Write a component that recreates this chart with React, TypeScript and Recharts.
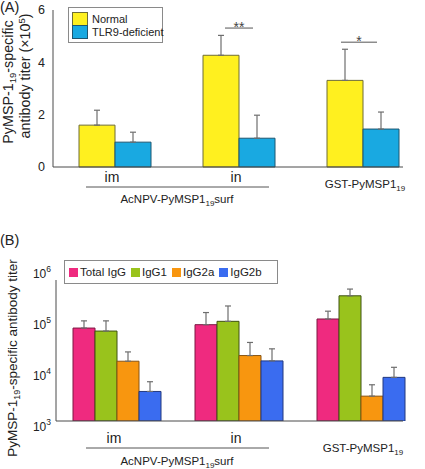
import { Bar, BarChart, ErrorBar, Legend, ReferenceDot, XAxis, YAxis } from 'recharts';

const FONT = '"Liberation Sans", Arial, Helvetica, sans-serif';

// panel A: linear titer (x10^5)
const categories = ['im', 'in', 'GST'];
const normalTiter = [1.6, 4.27, 3.31];
const normalErr = [0.57, 0.76, 1.19];
const tlr9Titer = [0.95, 1.1, 1.45];
const tlr9Err = [0.38, 0.88, 0.65];
const linearTicks = [0, 2, 4, 6];
const sigMarks = [
  { cat: 'in', y: 5.31, label: '**', shift: 0 },
  { cat: 'GST', y: 4.77, label: '*', shift: -4 }
];

// panel B: log titer by isotype
const totalIgG = [95000, 112000, 148000];
const totalIgGErr = [40000, 91000, 69000];
const igg1 = [82000, 132000, 461000];
const igg1Err = [53000, 148000, 180000];
const igg2a = [18700, 24700, 3380];
const igg2aErr = [10800, 22200, 2520];
const igg2b = [4250, 19000, 8480];
const igg2bErr = [2600, 15300, 5400];
const logTicks = [1000, 10000, 100000, 1000000];

const seriesA = [
  { key: 'normal', err: 'normalErr', name: 'Normal', fill: '#fff01f', stroke: '#6f6d35' },
  { key: 'tlr9', err: 'tlr9Err', name: 'TLR9-deficient', fill: '#19a9e1', stroke: '#1d5670' }
];
const seriesB = [
  { key: 'total', err: 'totalErr', name: 'Total IgG', fill: '#ef2a7f', stroke: '#7d1843' },
  { key: 'igg1', err: 'igg1Err', name: 'IgG1', fill: '#99c31c', stroke: '#3f5212' },
  { key: 'igg2a', err: 'igg2aErr', name: 'IgG2a', fill: '#f8960f', stroke: '#8a5512' },
  { key: 'igg2b', err: 'igg2bErr', name: 'IgG2b', fill: '#3a6cf0', stroke: '#23397f' }
];

const rowsA = categories.map((cat, i) => ({
  cat,
  normal: normalTiter[i],
  normalErr: [0, normalErr[i]],
  tlr9: tlr9Titer[i],
  tlr9Err: [0, tlr9Err[i]]
}));

const rowsB = categories.map((cat, i) => ({
  cat,
  total: totalIgG[i],
  totalErr: [0, totalIgGErr[i]],
  igg1: igg1[i],
  igg1Err: [0, igg1Err[i]],
  igg2a: igg2a[i],
  igg2aErr: [0, igg2aErr[i]],
  igg2b: igg2b[i],
  igg2bErr: [0, igg2bErr[i]]
}));

const AXIS = '#4a4a4a';

function Sub({ children, size = 8.5, shift = 3 }: { children: string; size?: number; shift?: number }) {
  return (
    <tspan baselineShift={-shift} fontSize={size}>{children}</tspan>
  );
}

function makeCatTick(labelDy: number, gstDy: number, lineDy: number, groupDy: number) {
  return function CatTick({ x = 0, y = 0, payload }: any) {
    const v = payload?.value;
    if (v === 'GST') {
      return (
        <text x={x + 2} y={y + gstDy} textAnchor="middle" fontSize={11.5} fill="#222" fontFamily={FONT}>
          GST-PyMSP1<Sub size={8}>19</Sub>
        </text>
      );
    }
    return (
      <g>
        <text x={x - 3} y={y + labelDy} textAnchor="middle" fontSize={14} fill="#222" fontFamily={FONT}>
          {v}
        </text>
        {v === 'in' && (
          <>
            <line x1={x - 153} x2={x + 30} y1={y + lineDy} y2={y + lineDy} stroke="#555" strokeWidth={1} />
            <text x={x - 62} y={y + groupDy} textAnchor="middle" fontSize={11.5} fill="#222" fontFamily={FONT}>
              AcNPV-PyMSP1<Sub size={8}>19</Sub>surf
            </text>
          </>
        )}
      </g>
    );
  };
}

const TickA = makeCatTick(15, 21, 20, 36);
const TickB = makeCatTick(22, 31, 27, 44);

function LogTick({ x = 0, y = 0, payload }: any) {
  const exp = Math.round(Math.log10(payload?.value ?? 1));
  const dy = 4 + (y - 120) * 0.09;
  return (
    <text x={x} y={y + dy} textAnchor="end" fontSize={12} fill="#222" fontFamily={FONT}>
      10<tspan baselineShift={6} fontSize={8.5}>{exp}</tspan>
    </text>
  );
}

function SigMark({ cx = 0, cy = 0, label, shift, half }: any) {
  const x = cx + shift;
  return (
    <g>
      <line x1={x - half} x2={x + half} y1={cy} y2={cy} stroke="#555" strokeWidth={1} />
      <text x={x} y={cy + 4} textAnchor="middle" fontSize={14} fill="#444" fontFamily={FONT}>
        {label}
      </text>
    </g>
  );
}

function LabelA() {
  const cy = 82;
  return (
    <g fontFamily={FONT} fill="#222">
      <text x={0} y={12} fontSize={14.5}>(A)</text>
      <text transform={`rotate(-90, 13, ${cy})`} x={13} y={cy} textAnchor="middle" fontSize={14.3}>
        PyMSP-1<Sub size={9.5}>19</Sub>-specific
      </text>
      <text transform={`rotate(-90, 30, ${cy - 6})`} x={30} y={cy - 6} textAnchor="middle" fontSize={14.3}>
        antibody titer (×10<tspan baselineShift={5} fontSize={9.5}>5</tspan>)
      </text>
    </g>
  );
}

function LabelB() {
  const cy = 128;
  return (
    <g fontFamily={FONT} fill="#222">
      <text x={0} y={15} fontSize={14.5}>(B)</text>
      <text transform={`rotate(-90, 17, ${cy})`} x={17} y={cy} textAnchor="middle" fontSize={13.5}>
        PyMSP-1<Sub size={9}>19</Sub>-specific antibody titer
      </text>
    </g>
  );
}

function LegendA() {
  return (
    <div style={{ boxSizing: 'border-box', border: '1px solid #8a8a8a', background: '#fff', padding: '4px 3px', width: 95, whiteSpace: 'nowrap', fontFamily: FONT, fontSize: 11, color: '#222' }}>
      {seriesA.map((s) => (
        <div key={s.key} style={{ display: 'flex', alignItems: 'center', height: 13 }}>
          <span style={{ width: 14, height: 12, background: s.fill, border: `1px solid ${s.stroke}`, marginRight: 4, flexShrink: 0 }} />
          <span>{s.name}</span>
        </div>
      ))}
    </div>
  );
}

function LegendB() {
  return (
    <div style={{ boxSizing: 'border-box', border: '1px solid #8a8a8a', background: '#fff', padding: '3px 4px', width: 214, whiteSpace: 'nowrap', display: 'flex', fontFamily: FONT, fontSize: 11.5, color: '#222' }}>
      {seriesB.map((s) => (
        <span key={s.key} style={{ display: 'flex', alignItems: 'center', marginRight: 5, height: 16 }}>
          <span style={{ width: 9, height: 9, background: s.fill, marginRight: 2, flexShrink: 0 }} />
          {s.name}
        </span>
      ))}
    </div>
  );
}

export default function App() {
  return (
    <div style={{ position: 'absolute', left: 0, top: 0, width: 425, height: 469, background: '#fff', fontFamily: FONT }}>
      <div style={{ position: 'absolute', left: 0, top: 0 }}>
        <BarChart width={425} height={230} data={rowsA} margin={{ top: 10, right: 22, left: 0, bottom: 0 }} barGap={0} barSize={36}>
          <XAxis dataKey="cat" axisLine={{ stroke: AXIS }} tickLine={false} tickSize={0} tickMargin={0} padding={{ left: 0, right: -22 }} tick={<TickA />} interval={0} height={63} />
          <YAxis domain={[0, 6]} ticks={linearTicks} width={53} axisLine={{ stroke: AXIS }} tickLine={false} tickSize={0} tickMargin={8} tick={{ fontSize: 12.5, fill: '#222', fontFamily: FONT }} label={<LabelA />} />
          <Legend layout="vertical" align="center" verticalAlign="middle" wrapperStyle={{ position: 'absolute', left: 68, top: 7, width: 'auto' }} content={<LegendA />} />
          {seriesA.map((s) => (
            <Bar key={s.key} dataKey={s.key} name={s.name} fill={s.fill} stroke={s.stroke} strokeWidth={1} isAnimationActive={false}>
              <ErrorBar dataKey={s.err} direction="y" width={3} stroke="#6e6e6e" strokeWidth={1.2} isAnimationActive={false} />
            </Bar>
          ))}
          {sigMarks.map((m) => (
            <ReferenceDot key={m.cat} x={m.cat} y={m.y} r={0} shape={(p: any) => <SigMark {...p} label={m.label} shift={m.shift} half={m.label.length > 1 ? 14 : 18} />} />
          ))}
        </BarChart>
      </div>
      <div style={{ position: 'absolute', left: 0, top: 230 }}>
        <BarChart width={425} height={239} data={rowsB} margin={{ top: 50, right: 22, left: 0, bottom: 0 }} barGap={0} barSize={22}>
          <XAxis dataKey="cat" axisLine={{ stroke: AXIS }} tickLine={false} tickSize={0} tickMargin={0} padding={{ left: 0, right: -19 }} tick={<TickB />} interval={0} height={48} />
          <YAxis scale="log" domain={[1000, 1000000]} ticks={logTicks} allowDataOverflow width={56} axisLine={{ stroke: AXIS }} tickLine={false} tickSize={0} tickMargin={5} tick={<LogTick />} label={<LabelB />} />
          <Legend layout="vertical" align="center" verticalAlign="middle" wrapperStyle={{ position: 'absolute', left: 64, top: 30, width: 'auto' }} content={<LegendB />} />
          {seriesB.map((s) => (
            <Bar key={s.key} dataKey={s.key} name={s.name} fill={s.fill} stroke={s.stroke} strokeWidth={1} isAnimationActive={false}>
              <ErrorBar dataKey={s.err} direction="y" width={3} stroke="#6e6e6e" strokeWidth={1.2} isAnimationActive={false} />
            </Bar>
          ))}
        </BarChart>
      </div>
    </div>
  );
}
